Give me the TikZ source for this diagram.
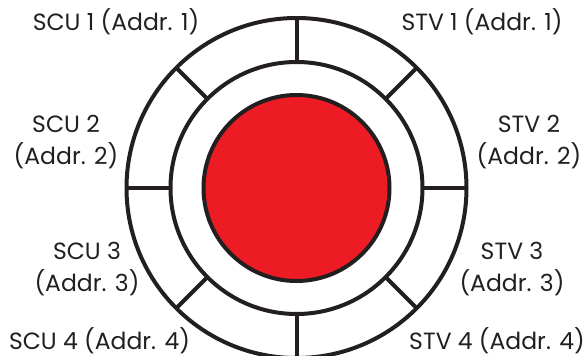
\documentclass[tikz,border=0pt]{standalone}
\usepackage{fontspec}
\setmainfont{Poppins}
\usetikzlibrary{calc}
\definecolor{ink}{HTML}{231F20}
\definecolor{redfill}{HTML}{ED1C24}
\begin{document}
\begin{tikzpicture}[x=1pt,y=-1pt,
  ring/.style={draw=ink,line width=4pt},
  lbl/.style={text=ink,font=\fontsize{23.5}{32}\selectfont,align=center,inner sep=0pt,anchor=base}]
\useasboundingbox (0,0) rectangle (584,356);
\coordinate (c) at (296.5,188);
\draw[ring] (c) circle[radius=170];
\draw[ring] (c) circle[radius=126];
\node[circle,draw=ink,line width=4pt,fill=redfill,minimum size=186pt,inner sep=0pt] (core) at (c) {};
\foreach \a in {0,45,...,315}{
  \draw[ring] ($(c)+(\a:126)$) -- ($(c)+(\a:170)$);
}
\node[lbl] (scu1) at (116,30.7) {SCU 1 (Addr. 1)};
\node[lbl] (stv1) at (482,30.7) {STV 1 (Addr. 1)};
\node[lbl] (scu2) at (66,164) {SCU 2\\(Addr. 2)};
\node[lbl] (stv2) at (529,164) {STV 2\\(Addr. 2)};
\node[lbl] (scu3) at (87,291.7) {SCU 3\\(Addr. 3)};
\node[lbl] (stv3) at (512,291.7) {STV 3\\(Addr. 3)};
\node[lbl] (scu4) at (99.5,349) {SCU 4 (Addr. 4)};
\node[lbl] (stv4) at (497,349) {STV 4 (Addr. 4)};
\end{tikzpicture}
\end{document}
